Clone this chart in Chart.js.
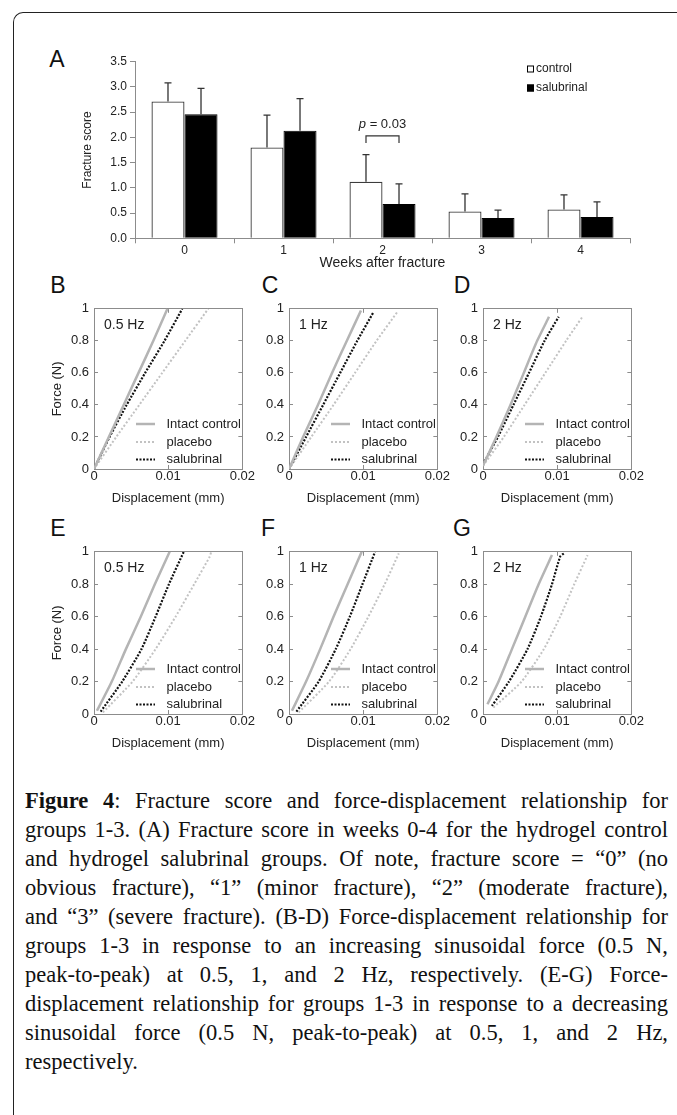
<!DOCTYPE html>
<html>
<head>
<meta charset="utf-8">
<script src="https://cdn.jsdelivr.net/npm/chart.js@4.4.1/dist/chart.umd.min.js"></script>
<style>
    html, body { margin: 0; padding: 0; background: #fff; }
    body { width: 677px; height: 1115px; position: relative; overflow: hidden; font-family: "Liberation Sans", Arial, sans-serif; }
    .frame { position: absolute; left: 13px; top: 12px; width: 700px; height: 1150px; border-top: 1.5px solid #222; border-left: 1.5px solid #222; border-top-left-radius: 10px; }
    canvas { position: absolute; }
    .letter { position: absolute; width: 30px; text-align: center; font-size: 23px; line-height: 23px; color: #111; }
    .caption { position: absolute; left: 25px; top: 786px; width: 643px; font-family: "Liberation Serif", "Times New Roman", serif; font-size: 22.5px; color: #111; }
    .caption div { height: 29px; line-height: 29px; text-align: justify; text-align-last: justify; white-space: nowrap; }
    .caption div.last { text-align-last: left; }
</style>
</head>
<body>
<div class="frame"></div>

<div class="letter" style="left:42px; top:48px;">A</div>
<div class="letter" style="left:43px; top:274px;">B</div>
<div class="letter" style="left:255px; top:274px;">C</div>
<div class="letter" style="left:447px; top:274px;">D</div>
<div class="letter" style="left:43px; top:517px;">E</div>
<div class="letter" style="left:253px; top:517px;">F</div>
<div class="letter" style="left:447px; top:517px;">G</div>

<canvas id="chartA" width="677" height="240" style="left:0; top:40px;"></canvas>

<div class="caption">
    <div><b>Figure 4</b>: Fracture score and force-displacement relationship for</div>
    <div>groups 1-3. (A) Fracture score in weeks 0-4 for the hydrogel control</div>
    <div>and hydrogel salubrinal groups. Of note, fracture score = “0” (no</div>
    <div>obvious fracture), “1” (minor fracture), “2” (moderate fracture),</div>
    <div>and “3” (severe fracture). (B-D) Force-displacement relationship for</div>
    <div>groups 1-3 in response to an increasing sinusoidal force (0.5 N,</div>
    <div>peak-to-peak) at 0.5, 1, and 2 Hz, respectively. (E-G) Force-</div>
    <div>displacement relationship for groups 1-3 in response to a decreasing</div>
    <div>sinusoidal force (0.5 N, peak-to-peak) at 0.5, 1, and 2 Hz,</div>
    <div class="last">respectively.</div>
</div>

<script>
// --- Panel A data: fracture score by week ---
const weeks = ['0', '1', '2', '3', '4'];
const controlMean = [2.71, 1.80, 1.12, 0.53, 0.57];
const controlSD = [0.37, 0.64, 0.54, 0.35, 0.29];
const salubrinalMean = [2.46, 2.13, 0.68, 0.40, 0.42];
const salubrinalSD = [0.51, 0.64, 0.40, 0.16, 0.30];

// --- Panels B-G data: [displacement (mm), force (N)] ---
const intactB = [[0, 0], [0.0020, 0.2], [0.0040, 0.4], [0.0060, 0.6], [0.0080, 0.8], [0.0099, 1]];
const placeboB = [[0, 0], [0.0030, 0.2], [0.0061, 0.4], [0.0092, 0.6], [0.0123, 0.8], [0.0154, 1]];
const salubrinalB = [[0, 0], [0.0021, 0.2], [0.0044, 0.4], [0.0069, 0.6], [0.0095, 0.8], [0.0119, 1]];

const intactC = [[0, 0], [0.0019, 0.2], [0.0039, 0.4], [0.0058, 0.6], [0.0078, 0.8], [0.0097, 0.99]];
const placeboC = [[0, 0], [0.0030, 0.2], [0.0060, 0.4], [0.0089, 0.6], [0.0118, 0.8], [0.0146, 0.98]];
const salubrinalC = [[0, 0], [0.0023, 0.2], [0.0046, 0.4], [0.0069, 0.6], [0.0092, 0.8], [0.0114, 0.98]];

const intactD = [[0, 0.02], [0.0018, 0.2], [0.0037, 0.4], [0.0055, 0.6], [0.0073, 0.8], [0.0089, 0.95]];
const placeboD = [[0, 0.02], [0.0028, 0.2], [0.0056, 0.4], [0.0084, 0.6], [0.0112, 0.8], [0.0134, 0.95]];
const salubrinalD = [[0, 0.03], [0.0020, 0.2], [0.0041, 0.4], [0.0062, 0.6], [0.0083, 0.8], [0.0102, 0.95]];

const intactE = [[0.0004, 0.02], [0.0024, 0.2], [0.0043, 0.4], [0.0063, 0.6], [0.0082, 0.8], [0.0102, 1]];
const placeboE = [[0.0012, 0.01], [0.0052, 0.2], [0.0083, 0.4], [0.0110, 0.6], [0.0135, 0.8], [0.0156, 0.97], [0.0158, 1]];
const salubrinalE = [[0.0009, 0.015], [0.0038, 0.2], [0.0064, 0.4], [0.0083, 0.6], [0.0101, 0.8], [0.0121, 1]];

const intactF = [[0.0004, 0.02], [0.0023, 0.2], [0.0042, 0.4], [0.0060, 0.6], [0.0079, 0.8], [0.0098, 1]];
const placeboF = [[0.0013, 0.01], [0.0054, 0.2], [0.0083, 0.4], [0.0107, 0.6], [0.0129, 0.8], [0.0148, 0.99]];
const salubrinalF = [[0.0010, 0.015], [0.0040, 0.2], [0.0063, 0.4], [0.0082, 0.6], [0.0099, 0.8], [0.0116, 1]];

const intactG = [[0.0006, 0.06], [0.0021, 0.2], [0.0039, 0.4], [0.0057, 0.6], [0.0075, 0.8], [0.0093, 0.98]];
const placeboG = [[0.0014, 0.04], [0.0052, 0.2], [0.0082, 0.4], [0.0104, 0.6], [0.0123, 0.8], [0.0141, 0.98]];
const salubrinalG = [[0.0012, 0.05], [0.0035, 0.2], [0.0060, 0.4], [0.0078, 0.6], [0.0093, 0.8], [0.0104, 0.97], [0.0109, 0.99]];

const seriesNames = ['Intact control', 'placebo', 'salubrinal'];

// --- Shared defaults ---
const FONT = '"Liberation Sans", Arial, sans-serif';
Chart.defaults.font.family = FONT;
Chart.defaults.color = '#222';
const axisGray = '#8c8c8c';

// --- Panel A: error bars, legend and p-value bracket ---
const panelAPlugin = {
    id: 'panelA',
    afterDatasetsDraw(chart) {
        const ctx = chart.ctx;
        const y = chart.scales.y;
        const a = chart.chartArea;

        ctx.save();
        ctx.strokeStyle = '#333';
        ctx.lineWidth = 1.3;
        chart.data.datasets.forEach((ds, i) => {
            chart.getDatasetMeta(i).data.forEach((bar, j) => {
                const top = y.getPixelForValue(ds.data[j] + ds.errorUp[j]);
                ctx.beginPath();
                ctx.moveTo(bar.x, bar.y);
                ctx.lineTo(bar.x, top);
                ctx.moveTo(bar.x - 3.5, top);
                ctx.lineTo(bar.x + 3.5, top);
                ctx.stroke();
            });
        });

        // p = 0.03 bracket over week 2
        const x0 = chart.getDatasetMeta(0).data[2].x;
        const x1 = chart.getDatasetMeta(1).data[2].x;
        const bTop = y.getPixelForValue(2.03);
        const bLeg = y.getPixelForValue(1.89);
        ctx.lineWidth = 1.2;
        ctx.beginPath();
        ctx.moveTo(x0, bLeg);
        ctx.lineTo(x0, bTop);
        ctx.lineTo(x1, bTop);
        ctx.lineTo(x1, bLeg);
        ctx.stroke();

        ctx.fillStyle = '#222';
        ctx.textBaseline = 'middle';
        ctx.textAlign = 'left';
        ctx.font = 'italic 13px ' + FONT;
        const pW = ctx.measureText('p').width;
        ctx.font = '13px ' + FONT;
        const restW = ctx.measureText(' = 0.03').width;
        const tx = (x0 + x1) / 2 - (pW + restW) / 2;
        const ty = y.getPixelForValue(2.25);
        ctx.font = 'italic 13px ' + FONT;
        ctx.fillText('p', tx, ty);
        ctx.font = '13px ' + FONT;
        ctx.fillText(' = 0.03', tx + pW, ty);

        // legend
        ctx.font = '12px ' + FONT;
        const lx = a.right - 103;
        chart.data.datasets.forEach((ds, i) => {
            const ly = a.top + 7.3 + i * 19;
            ctx.fillStyle = ds.backgroundColor;
            ctx.fillRect(lx, ly - 3.5, 7, 7);
            ctx.strokeStyle = '#000';
            ctx.lineWidth = 1;
            ctx.strokeRect(lx + 0.5, ly - 3.5 + 0.5, 6, 6);
            ctx.fillStyle = '#222';
            ctx.fillText(ds.label, lx + 9, ly);
        });
        ctx.restore();
    }
};

new Chart(document.getElementById('chartA'), {
    type: 'bar',
    data: {
        labels: weeks,
        datasets: [
            { label: 'control', data: controlMean, errorUp: controlSD, backgroundColor: '#fff', borderColor: '#3c3c3c', borderWidth: 1.3 },
            { label: 'salubrinal', data: salubrinalMean, errorUp: salubrinalSD, backgroundColor: '#000', borderColor: '#000', borderWidth: 1 }
        ]
    },
    options: {
        responsive: false,
        animation: false,
        devicePixelRatio: 1,
        layout: { padding: { left: 0, right: 47, top: 21.7, bottom: 0 } },
        datasets: { bar: { categoryPercentage: 0.667, barPercentage: 1 } },
        plugins: { legend: { display: false }, tooltip: { enabled: false } },
        scales: {
            x: {
                grid: { drawOnChartArea: false, color: axisGray, tickLength: 5, offset: true },
                border: { color: axisGray },
                ticks: { padding: 0, font: { size: 12 } },
                title: { display: true, text: 'Weeks after fracture', font: { size: 14 }, padding: { top: 0, bottom: 8.6 } },
                afterFit(scale) { scale.height = 41.7; }
            },
            y: {
                min: 0,
                max: 3.5,
                ticks: { stepSize: 0.5, padding: 3, font: { size: 12 }, callback: v => v.toFixed(1) },
                grid: { drawOnChartArea: false, color: axisGray, tickLength: 5 },
                border: { color: axisGray },
                title: { display: true, text: 'Fracture score', font: { size: 12 }, padding: { top: 80.8, bottom: 0 } },
                afterFit(scale) { scale.width = 135; }
            }
        }
    },
    plugins: [panelAPlugin]
});

// --- Panels B-G: force-displacement ---
const panelNotesPlugin = {
    id: 'panelNotes',
    afterDatasetsDraw(chart, args, opts) {
        const ctx = chart.ctx;
        const a = chart.chartArea;
        ctx.save();
        ctx.fillStyle = '#222';
        ctx.textBaseline = 'middle';
        ctx.textAlign = 'left';
        ctx.font = '14px ' + FONT;
        ctx.fillText(opts.freq, a.left + 10, a.top + 16);

        ctx.font = '13px ' + FONT;
        const rows = [45, 27, 9.5];
        chart.data.datasets.forEach((ds, i) => {
            const ly = a.bottom - rows[i];
            ctx.strokeStyle = ds.borderColor;
            ctx.lineWidth = ds.borderWidth;
            ctx.setLineDash(ds.borderDash || []);
            ctx.beginPath();
            ctx.moveTo(a.left + 42, ly);
            ctx.lineTo(a.left + 61, ly);
            ctx.stroke();
            ctx.setLineDash([]);
            ctx.fillText(ds.label, a.left + 72.5, ly);
        });
        ctx.restore();
    }
};

const toXY = pts => pts.map(p => ({ x: p[0], y: p[1] }));
const tickLabel = v => String(+v.toFixed(3));

const panels = [
    { left: 94, top: 306, h: 163, freq: '0.5 Hz', yTitle: true, series: [intactB, placeboB, salubrinalB] },
    { left: 289, top: 306, h: 163, freq: '1 Hz', yTitle: false, series: [intactC, placeboC, salubrinalC] },
    { left: 483, top: 306, h: 163, freq: '2 Hz', yTitle: false, series: [intactD, placeboD, salubrinalD] },
    { left: 94, top: 549, h: 165, freq: '0.5 Hz', yTitle: true, series: [intactE, placeboE, salubrinalE] },
    { left: 289, top: 549, h: 165, freq: '1 Hz', yTitle: false, series: [intactF, placeboF, salubrinalF] },
    { left: 483, top: 549, h: 165, freq: '2 Hz', yTitle: false, series: [intactG, placeboG, salubrinalG] }
];

const lineStyles = [
    { borderColor: '#b4b4b4', borderWidth: 2.5, borderDash: [] },
    { borderColor: '#c2c2c2', borderWidth: 2, borderDash: [2, 2] },
    { borderColor: '#111', borderWidth: 2.2, borderDash: [2, 1.5] }
];

function makePanel(p) {
    const padL = 62, padR = 12, padT = 14, padB = 48;
    const cv = document.createElement('canvas');
    cv.width = padL + 153 + padR;
    cv.height = padT + p.h + padB;
    cv.style.left = (p.left - padL) + 'px';
    cv.style.top = (p.top - padT) + 'px';
    document.body.appendChild(cv);

    const gridOpts = { drawOnChartArea: false, color: axisGray, tickLength: -4 };

    new Chart(cv, {
        type: 'scatter',
        data: {
            datasets: p.series.map((pts, i) => Object.assign({
                label: seriesNames[i],
                data: toXY(pts),
                showLine: true,
                pointRadius: 0,
                tension: 0.2,
                fill: false
            }, lineStyles[i]))
        },
        options: {
            responsive: false,
            animation: false,
            devicePixelRatio: 1,
            layout: { padding: { left: 0, right: padR, top: padT, bottom: 0 } },
            plugins: { legend: { display: false }, tooltip: { enabled: false }, panelNotes: { freq: p.freq } },
            scales: {
                x: {
                    type: 'linear', min: 0, max: 0.02,
                    ticks: { stepSize: 0.01, padding: 4, font: { size: 13 }, callback: tickLabel },
                    grid: gridOpts,
                    border: { color: axisGray },
                    title: { display: true, text: 'Displacement (mm)', font: { size: 13 }, padding: { top: 0, bottom: 11 } },
                    afterFit(scale) { scale.height = padB; }
                },
                x2: {
                    type: 'linear', position: 'top', min: 0, max: 0.02,
                    ticks: { display: false, stepSize: 0.01 },
                    grid: gridOpts,
                    border: { color: axisGray },
                    afterFit(scale) { scale.height = 0; }
                },
                y: {
                    type: 'linear', min: 0, max: 1,
                    ticks: { stepSize: 0.2, padding: 9, font: { size: 13 }, callback: tickLabel },
                    grid: gridOpts,
                    border: { color: axisGray },
                    title: { display: p.yTitle, text: 'Force (N)', font: { size: 13 }, padding: { top: 17.2, bottom: 0 } },
                    afterFit(scale) { scale.width = padL; }
                },
                y2: {
                    type: 'linear', position: 'right', min: 0, max: 1,
                    ticks: { display: false, stepSize: 0.2 },
                    grid: gridOpts,
                    border: { color: axisGray },
                    afterFit(scale) { scale.width = 0; }
                }
            }
        },
        plugins: [panelNotesPlugin]
    });
}

panels.forEach(makePanel);
</script>
</body>
</html>
